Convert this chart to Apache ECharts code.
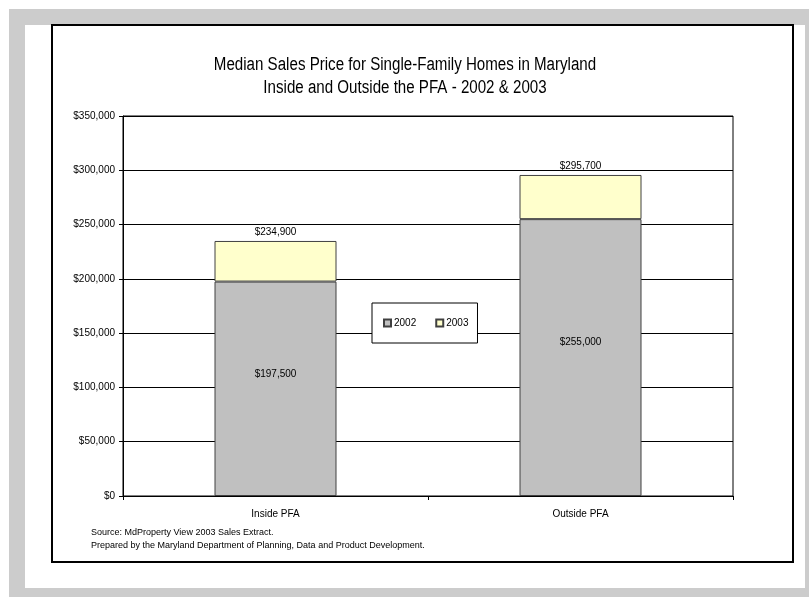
<!DOCTYPE html>
<html>
<head>
<meta charset="utf-8">
<title>Median Sales Price</title>
<script src="https://cdn.jsdelivr.net/npm/echarts@6/dist/echarts.min.js"></script>
<style>
  html, body { margin: 0; padding: 0; background: #fff; }
  #chart { width: 809px; height: 597px; }
</style>
</head>
<body>
<div id="chart"></div>
<script>
var categories = ['Inside PFA', 'Outside PFA']
var years = ['2002', '2003']
var price2002 = [197500, 255000]
var price2003 = [234900, 295700]
var yTicks = [0, 50000, 100000, 150000, 200000, 250000, 300000, 350000]
var titleLines = ['Median Sales Price for Single-Family Homes in Maryland', 'Inside and Outside the PFA - 2002 & 2003']
var sourceLines = ['Source: MdProperty View 2003 Sales Extract.', 'Prepared by the Maryland Department of Planning, Data and Product Development.']

// stacked part for 2003 is what sits on top of the 2002 bar
var increase = price2003.map(function(v, i){ return v - price2002[i] })

function money(v){
    return '$' + String(v).replace(/\B(?=(\d{3})+(?!\d))/g, ',')
}

var sans = '"Liberation Sans", Arial, sans-serif'

// no narrow font installed, so squeeze the title text a bit
function titleText(txt, y){
    return {
        type: 'text', x: 405, y: y, scaleX: 0.84,
        style: { text: txt, x: 0, y: 0, fontSize: 18, fontFamily: sans, fill: '#000', align: 'center', verticalAlign: 'middle' }
    }
}

var chart = echarts.init(document.getElementById('chart'))
var option = {
    animation: false,
    backgroundColor: '#fff',
    graphic: [
        { type: 'rect', z: -10, shape: { x: 9, y: 9, width: 800, height: 588 }, style: { fill: '#cccccc' } },
        { type: 'rect', z: -9, shape: { x: 25, y: 25, width: 780, height: 563 }, style: { fill: '#fff' } },
        { type: 'rect', z: -8, shape: { x: 52, y: 25, width: 741, height: 537 }, style: { fill: 'none', stroke: '#000', lineWidth: 2 } },
        titleText(titleLines[0], 65),
        titleText(titleLines[1], 88),
        { type: 'text', left: 91, top: 528, style: { text: sourceLines[0], fontSize: 9, fontFamily: sans, fill: '#000' } },
        { type: 'text', left: 91, top: 541, style: { text: sourceLines[1], fontSize: 9, fontFamily: sans, fill: '#000' } }
    ],
    legend: {
        data: years,
        left: 372,
        top: 303,
        padding: [15, 9, 15, 11],
        itemWidth: 7,
        itemHeight: 7,
        itemGap: 19,
        borderColor: '#000',
        borderWidth: 1,
        backgroundColor: '#fff',
        textStyle: { fontSize: 10, color: '#000', fontFamily: sans, padding: [0, 0, 0, -2] },
        icon: 'rect'
    },
    grid: {
        left: 123, top: 116, right: 76, bottom: 101,
        show: true, borderColor: '#000', borderWidth: 1, backgroundColor: 'transparent'
    },
    xAxis: {
        type: 'category',
        data: categories,
        axisLine: { lineStyle: { color: '#000', width: 1 } },
        axisTick: { show: true, length: 4, lineStyle: { color: '#000' } },
        axisLabel: { color: '#000', fontSize: 10, fontFamily: sans, margin: 13 }
    },
    yAxis: {
        type: 'value',
        min: yTicks[0],
        max: yTicks[yTicks.length - 1],
        interval: yTicks[1] - yTicks[0],
        axisLine: { show: true, lineStyle: { color: '#000', width: 1 } },
        axisTick: { show: true, length: 4, lineStyle: { color: '#000' } },
        axisLabel: { color: '#000', fontSize: 10, fontFamily: sans, margin: 8, formatter: money },
        splitLine: { lineStyle: { color: '#000', width: 1 } }
    },
    series: [{
        name: years[0],
        type: 'bar',
        stack: 'price',
        data: price2002,
        barWidth: '40%',
        itemStyle: { color: '#c0c0c0', borderColor: '#404040', borderWidth: 1 },
        label: {
            show: true, position: 'inside', offset: [0, -15],
            color: '#000', fontSize: 10, fontFamily: sans,
            formatter: function(p){ return money(price2002[p.dataIndex]) }
        }
    }, {
        name: years[1],
        type: 'bar',
        stack: 'price',
        data: increase,
        itemStyle: { color: '#ffffcc', borderColor: '#404040', borderWidth: 1 },
        label: {
            show: true, position: 'top', distance: 4,
            color: '#000', fontSize: 10, fontFamily: sans,
            formatter: function(p){ return money(price2003[p.dataIndex]) }
        }
    }]
}
chart.setOption(option)
</script>
</body>
</html>
